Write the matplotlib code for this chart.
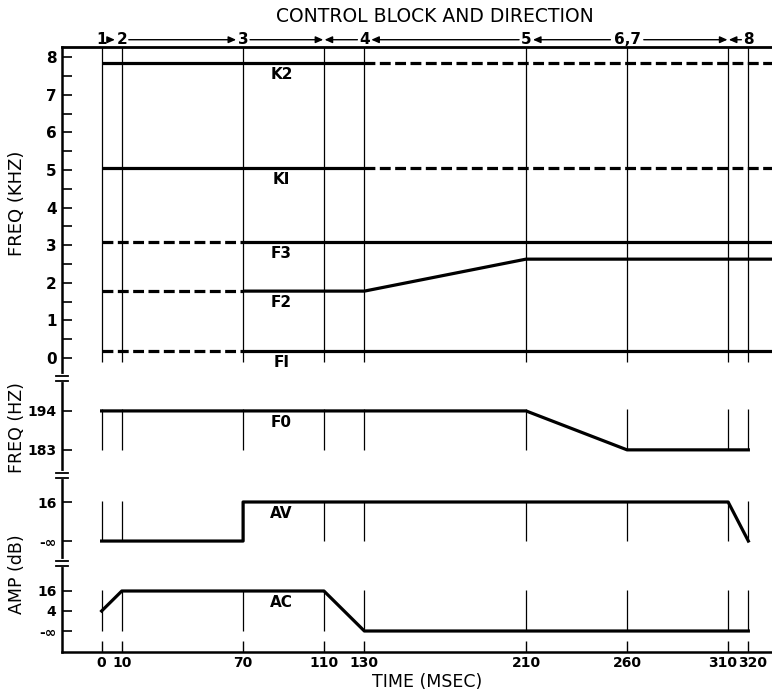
import matplotlib
matplotlib.use('Agg')
import matplotlib.pyplot as plt
import matplotlib.transforms as mtransforms
from matplotlib.lines import Line2D

W, H = 772, 692

# control block boundaries (msec)
times = [0, 10, 70, 110, 130, 210, 260, 310, 320]
time_labels = ['0', '10', '70', '110', '130', '210', '260', '310', '320']
block_t = [0, 10, 70, 130, 210, 260, 320]
block_labels = ['1', '2', '3', '4', '5', '6,7', '8']
# direction arrows between blocks
arrow_from = [0, 10, 70, 130, 210, 260, 260, 320]
arrow_to = [10, 70, 110, 110, 130, 210, 310, 310]

# formant / K frequencies (kHz)
form_t = [0, 70, 130, 210, 332]
k2 = [7.85, 7.85, 7.85, 7.85, 7.85]
k1 = [5.05, 5.05, 5.05, 5.05, 5.05]
f3 = [3.09, 3.09, 3.09, 3.09, 3.09]
f2 = [1.78, 1.78, 1.78, 2.63, 2.63]
f1 = [0.19, 0.19, 0.19, 0.19, 0.19]

# fundamental (Hz)
f0_t = [0, 210, 260, 320]
f0_hz = [194, 194, 183, 183]

# amplitudes (dB), NEG_INF marks the "-inf" level
NEG_INF = -8
av_t = [0, 70, 70, 310, 320]
av_db = [NEG_INF, NEG_INF, 16, 16, NEG_INF]
ac_t = [0, 10, 110, 130, 320]
ac_db = [4, 16, 16, NEG_INF, NEG_INF]


def px_rect(top, bottom, left=62):
    return [left / W, 1 - bottom / H, (W - left) / W, (bottom - top) / H]


fig = plt.figure(figsize=(W / 100, H / 100), dpi=100)
ax1 = fig.add_axes(px_rect(47, 378))
ax2 = fig.add_axes(px_rect(378, 475))
ax3 = fig.add_axes(px_rect(475, 563))
ax4 = fig.add_axes(px_rect(563, 652))

XMIN, XMAX = -19.6, 331.7
ax1.set_ylim(-0.53, 8.27)
ax2.set_ylim(175.9, 203.3)
ax3.set_ylim(-21.5, 32.6)
ax4.set_ylim(-20.6, 32.8)

for ax in (ax1, ax2, ax3, ax4):
    ax.set_xlim(XMIN, XMAX)
    for s in ('top', 'right', 'bottom'):
        ax.spines[s].set_visible(False)
    ax.spines['left'].set_linewidth(1.8)
    ax.tick_params(axis='y', direction='in', length=7, width=1.2, pad=4,
                   labelsize=10)
    ax.tick_params(axis='x', bottom=False, labelbottom=False)

ax1.spines['top'].set_visible(True)
ax1.spines['top'].set_linewidth(2)
ax4.spines['bottom'].set_visible(True)
ax4.spines['bottom'].set_linewidth(1.8)

LW = 2.3
VLW = 0.9
DASH = (0, (3.4, 1.4))

# top panel: K and formant tracks
ax1.vlines(times, -0.1, 8.27, color='black', lw=VLW)
for vals in (k2, k1):
    ax1.plot(form_t[:3], vals[:3], color='black', lw=LW, solid_capstyle='butt')
    ax1.plot(form_t[2:], vals[2:], color='black', lw=LW, linestyle=DASH)
for vals in (f3, f2, f1):
    ax1.plot(form_t[:2], vals[:2], color='black', lw=LW, linestyle=DASH)
    ax1.plot(form_t[1:], vals[1:], color='black', lw=LW, solid_capstyle='butt')
ax1.set_yticks(range(0, 9))
ax1.set_yticks([i + 0.5 for i in range(0, 8)], minor=True)
ax1.tick_params(axis='y', which='minor', direction='in', length=7, width=1.2)
ax1.set_yticklabels([str(i) for i in range(0, 9)], fontweight='bold',
                    fontsize=11)

# F0 panel
ax2.vlines(times, 183, 194.6, color='black', lw=VLW)
ax2.plot(f0_t, f0_hz, color='black', lw=LW)
ax2.set_yticks([194, 183])
ax2.set_yticklabels(['194', '183'], fontweight='bold')

# AV panel
ax3.vlines(times, NEG_INF, 16.5, color='black', lw=VLW)
ax3.plot(av_t, av_db, color='black', lw=LW)
ax3.set_yticks([16, NEG_INF])
ax3.set_yticklabels(['16', '-\u221e'], fontweight='bold')

# AC panel
ax4.vlines(times, NEG_INF, 16.5, color='black', lw=VLW)
ax4.plot(ac_t, ac_db, color='black', lw=LW)
ax4.set_yticks([16, 4, NEG_INF])
ax4.set_yticklabels(['16', '4', '-\u221e'], fontweight='bold')
ax4.set_xticks(times)
ax4.set_xticklabels(time_labels, fontweight='bold')
ax4.tick_params(axis='x', bottom=True, labelbottom=True, direction='in',
                length=8, width=1, pad=3, labelsize=10)
# nudge the two crowded labels at the right end apart
for lbl, dx in zip(ax4.get_xticklabels()[-2:], (-6, 4)):
    lbl.set_transform(lbl.get_transform() +
                      mtransforms.ScaledTranslation(dx / 100, 0, fig.dpi_scale_trans))

# track names
names = [(ax1, 'K2', k2[0]), (ax1, 'KI', k1[0]), (ax1, 'F3', f3[0]),
         (ax1, 'F2', f2[0]), (ax1, 'FI', f1[0]), (ax2, 'F0', f0_hz[0]),
         (ax3, 'AV', 16), (ax4, 'AC', 16)]
for ax, name, yv in names:
    ax.annotate(name, (89, yv), xytext=(0, -8.5), textcoords='offset points',
                ha='center', va='center', fontsize=11, fontweight='bold')

# control block labels and direction arrows
trans = ax1.get_xaxis_transform()
YB = 1.022
for t, lab in zip(block_t, block_labels):
    ax1.text(t, YB, lab, transform=trans, ha='center', va='center',
             fontsize=11, fontweight='bold')


def shrink(t):
    if t in block_t:
        return 1.5 + 3.5 * len(block_labels[block_t.index(t)])
    return 0.5


for a, b in zip(arrow_from, arrow_to):
    ax1.annotate('', xy=(b, YB), xytext=(a, YB), xycoords=trans, textcoords=trans,
                 arrowprops=dict(arrowstyle='-|>,head_length=0.45,head_width=0.2',
                                 color='black', lw=1, shrinkA=shrink(a),
                                 shrinkB=shrink(b)))

fig.text(435 / W, 1 - 17 / H, 'CONTROL BLOCK AND DIRECTION', ha='center',
         va='center', fontsize=13.5)
fig.text(427 / W, 1 - 682 / H, 'TIME (MSEC)', ha='center', va='center',
         fontsize=12.5)
fig.text(17 / W, 1 - 203 / H, 'FREQ (KHZ)', rotation=90, ha='center',
         va='center', fontsize=13)
fig.text(17 / W, 1 - 428 / H, 'FREQ (HZ)', rotation=90, ha='center',
         va='center', fontsize=12.5)
fig.text(17 / W, 1 - 574 / H, 'AMP (dB)', rotation=90, ha='center',
         va='center', fontsize=12.5)

# axis break marks on the left spine
for yb in (378, 475, 563):
    yf = 1 - yb / H
    fig.add_artist(Line2D([62 / W, 62 / W], [yf - 2 / H, yf + 2 / H],
                          transform=fig.transFigure, color='white', lw=3))
    for d in (-2.5, 2.5):
        fig.add_artist(Line2D([56 / W, 68 / W], [yf + d / H, yf + d / H],
                              transform=fig.transFigure, color='black', lw=1.3))

fig.savefig('out.png', dpi=100)
